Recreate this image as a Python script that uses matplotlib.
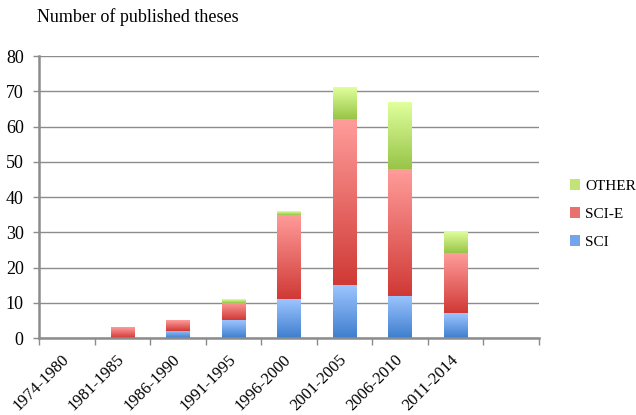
import numpy as np
import matplotlib
matplotlib.use("Agg")
import matplotlib.pyplot as plt
from matplotlib.colors import LinearSegmentedColormap
from matplotlib.patches import Patch

plt.rcParams["font.family"] = ["Liberation Serif", "DejaVu Serif"]

# data
periods = ["1974-1980", "1981-1985", "1986-1990", "1991-1995", "1996-2000",
           "2001-2005", "2006-2010", "2011-2014"]
sci = [0, 0, 2, 5, 11, 15, 12, 7]
sci_e = [0, 3, 3, 5, 24, 47, 36, 17]
other = [0, 0, 0, 1, 1, 9, 19, 6]

series = [
    ("SCI", sci, "#3f7fce", "#9cc4ff"),
    ("SCI-E", sci_e, "#d03a36", "#ff9c9a"),
    ("OTHER", other, "#98c548", "#e0ff9c"),
]

fs = 13

fig = plt.figure(figsize=(6.36, 4.15), dpi=100)
ax = fig.add_axes([0.0613, 0.1855, 0.786, 0.6795])

n_slots = len(periods) + 1
x = np.arange(len(periods))
width = 0.42
grid_col = "#8c8c8c"

bottom = np.zeros(len(periods))
handles = []
for name, vals, dark, light in series:
    vals = np.array(vals, dtype=float)
    bars = ax.bar(x, vals, width, bottom=bottom, color=light, linewidth=0, zorder=2)
    cmap = LinearSegmentedColormap.from_list(name, [dark, light])
    grad = np.linspace(0, 1, 64).reshape(-1, 1)
    for b in bars:
        h = b.get_height()
        if h <= 0:
            continue
        x0 = b.get_x()
        y0 = b.get_y()
        ax.imshow(grad, extent=[x0, x0 + width, y0, y0 + h], origin="lower",
                  aspect="auto", cmap=cmap, zorder=3, interpolation="bilinear")
    bottom += vals
    handles.append(Patch(facecolor=cmap(0.55), label=name))

ax.set_xlim(-0.5, n_slots - 0.5)
ax.set_ylim(0, 80)
ax.set_yticks(np.arange(0, 81, 10))
ax.yaxis.grid(True, color=grid_col, linewidth=1.0, zorder=0)
ax.set_axisbelow(True)

for s in ["top", "right"]:
    ax.spines[s].set_visible(False)
for s in ["left", "bottom"]:
    ax.spines[s].set_color(grid_col)
    ax.spines[s].set_linewidth(1.8)
ax.spines["bottom"].set_zorder(4)

ax.set_xticks(x)
ax.set_xticklabels(periods, rotation=45, ha="right", va="center",
                   rotation_mode="anchor", fontsize=12)
ax.tick_params(axis="x", length=0, pad=14)
ax.set_xticks(np.arange(n_slots + 1) - 0.5, minor=True)
ax.tick_params(axis="x", which="minor", length=5, color=grid_col, width=1)
ax.tick_params(axis="y", length=4, color=grid_col, width=1, labelsize=fs, pad=7)

fig.text(0.058, 0.958, "Number of published theses", fontsize=fs, va="center")

leg = fig.legend(handles=handles[::-1], loc="center left",
                 bbox_to_anchor=(0.896, 0.484), frameon=False, fontsize=11,
                 handlelength=0.65, handleheight=0.65, handletextpad=0.35,
                 labelspacing=0.95, borderpad=0, borderaxespad=0)

fig.savefig("out.png", dpi=100)
